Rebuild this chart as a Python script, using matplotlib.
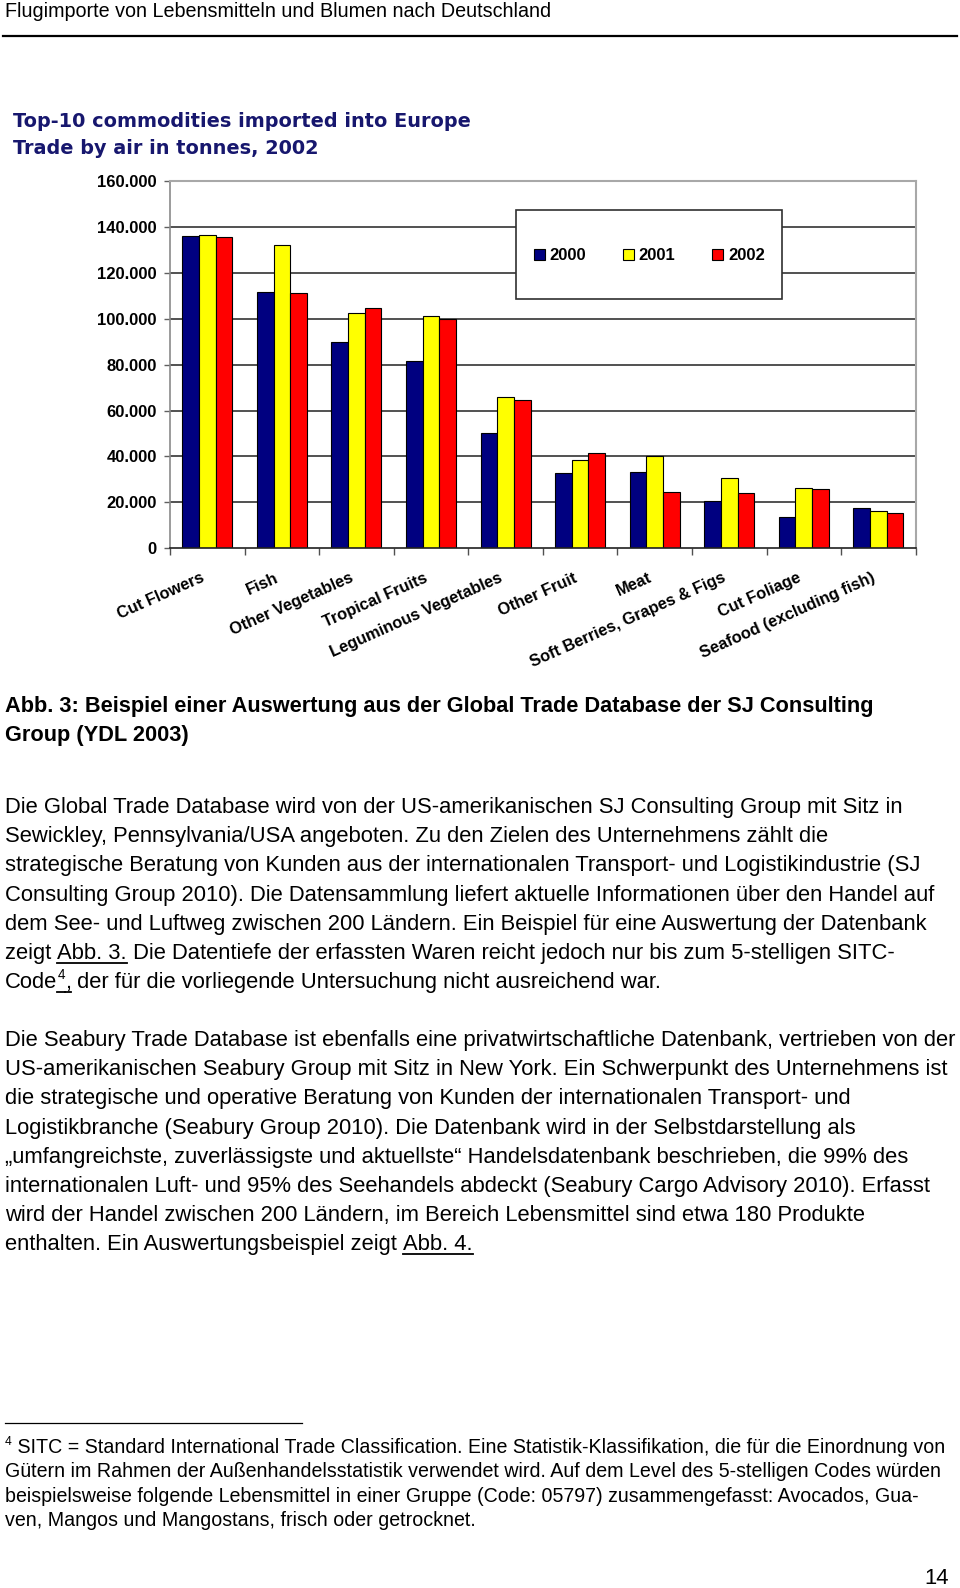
import matplotlib
matplotlib.use("Agg")
import matplotlib.pyplot as plt
import matplotlib.transforms as mtransforms
from matplotlib.lines import Line2D
from matplotlib.patches import Rectangle, Patch
import numpy as np

# chart data (tonnes)
commodities = [
    "Cut Flowers", "Fish", "Other Vegetables", "Tropical Fruits",
    "Leguminous Vegetables", "Other Fruit", "Meat",
    "Soft Berries, Grapes & Figs", "Cut Foliage", "Seafood (excluding fish)",
]
years = ["2000", "2001", "2002"]
t2000 = [136200, 111600, 89900, 81700, 50200, 32800, 33400, 20600, 13600, 17600]
t2001 = [136500, 132200, 102300, 101400, 65700, 38600, 40200, 30800, 26400, 16100]
t2002 = [135800, 111100, 104700, 99800, 64700, 41600, 24500, 24100, 26000, 15500]
year_colors = ["#000080", "#FFFF00", "#FF0000"]
y_ticks = [0, 20000, 40000, 60000, 80000, 100000, 120000, 140000, 160000]

# page text
header = "Flugimporte von Lebensmitteln und Blumen nach Deutschland"
chart_title = ["Top-10 commodities imported into Europe", "Trade by air in tonnes, 2002"]
caption = [
    "Abb. 3: Beispiel einer Auswertung aus der Global Trade Database der SJ Consulting",
    "Group (YDL 2003)",
]
para1 = [
    [("Die Global Trade Database wird von der US-amerikanischen SJ Consulting Group mit Sitz in", "n")],
    [("Sewickley, Pennsylvania/USA angeboten. Zu den Zielen des Unternehmens zählt die", "n")],
    [("strategische Beratung von Kunden aus der internationalen Transport- und Logistikindustrie (SJ", "n")],
    [("Consulting Group 2010). Die Datensammlung liefert aktuelle Informationen über den Handel auf", "n")],
    [("dem See- und Luftweg zwischen 200 Ländern. Ein Beispiel für eine Auswertung der Datenbank", "n")],
    [("zeigt ", "n"), ("Abb. 3.", "u"),
     (" Die Datentiefe der erfassten Waren reicht jedoch nur bis zum 5-stelligen SITC-", "n")],
    [("Code", "n"), ("4", "su"), (",", "u"), (" der für die vorliegende Untersuchung nicht ausreichend war.", "n")],
]
para2 = [
    [("Die Seabury Trade Database ist ebenfalls eine privatwirtschaftliche Datenbank, vertrieben von der", "n")],
    [("US-amerikanischen Seabury Group mit Sitz in New York. Ein Schwerpunkt des Unternehmens ist", "n")],
    [("die strategische und operative Beratung von Kunden der internationalen Transport- und", "n")],
    [("Logistikbranche (Seabury Group 2010). Die Datenbank wird in der Selbstdarstellung als", "n")],
    [("\u201eumfangreichste, zuverlässigste und aktuellste\u201c Handelsdatenbank beschrieben, die 99% des", "n")],
    [("internationalen Luft- und 95% des Seehandels abdeckt (Seabury Cargo Advisory 2010). Erfasst", "n")],
    [("wird der Handel zwischen 200 Ländern, im Bereich Lebensmittel sind etwa 180 Produkte", "n")],
    [("enthalten. Ein Auswertungsbeispiel zeigt ", "n"), ("Abb. 4.", "u")],
]
footnote = [
    [("4", "s"), (" SITC = Standard International Trade Classification. Eine Statistik-Klassifikation, die für die Einordnung von", "n")],
    [("Gütern im Rahmen der Außenhandelsstatistik verwendet wird. Auf dem Level des 5-stelligen Codes würden", "n")],
    [("beispielsweise folgende Lebensmittel in einer Gruppe (Code: 05797) zusammengefasst: Avocados, Gua-", "n")],
    [("ven, Mangos und Mangostans, frisch oder getrocknet.", "n")],
]

W, H = 960, 1588
fig = plt.figure(figsize=(W / 100, H / 100), dpi=100)
fig.patch.set_facecolor("white")
px = mtransforms.Affine2D().scale(1, -1).translate(0, H)
renderer = fig.canvas.get_renderer()

BODY = "Liberation Sans"


def advance(s, **kw):
    """Horizontal advance of a string in pixels (spaces included)."""
    a = fig.text(0, 0, "|" + s + "|", transform=px, **kw)
    b = fig.text(0, 0, "||", transform=px, **kw)
    w = a.get_window_extent(renderer).width - b.get_window_extent(renderer).width
    a.remove()
    b.remove()
    return w


def draw_runs(x, y, runs, size, weight="normal"):
    for text, kind in runs:
        fs = size * 0.62 if "s" in kind else size
        dy = -size * 0.42 * 100 / 72 if "s" in kind else 0
        kw = dict(fontsize=fs, family=BODY, fontweight=weight, color="black")
        fig.text(x, y + dy, text, transform=px, va="baseline", ha="left", **kw)
        w = advance(text, **kw)
        if "u" in kind:
            fig.add_artist(Line2D([x, x + w], [y + 4, y + 4], transform=px,
                                  color="black", lw=1.3))
        x += w


# page header
fig.text(5, 17, header, transform=px, fontsize=14.2, family=BODY, va="baseline")
fig.add_artist(Line2D([3, 957], [35.5, 35.5], transform=px, color="black", lw=1.6))

# chart title
for i, line in enumerate(chart_title):
    fig.text(13, 127 + i * 26.5, line, transform=px, fontsize=13.9,
             family="DejaVu Sans", fontweight="bold", color="#17176e", va="baseline")

# chart
ax = fig.add_axes([170 / W, 1 - 548.3 / H, 745.7 / W, 367.3 / H])
x = np.arange(len(commodities))
bw = 0.224
for k, (vals, col, yr) in enumerate(zip([t2000, t2001, t2002], year_colors, years)):
    ax.bar(x + (k - 1) * bw, vals, width=bw, color=col, edgecolor="black",
           linewidth=0.8, zorder=2, label=yr)

ax.set_xlim(-0.5, len(commodities) - 0.5)
ax.set_ylim(0, 160000)
ax.set_yticks(y_ticks)
ax.set_yticklabels([f"{v:,.0f}".replace(",", ".") for v in y_ticks],
                   fontsize=12, fontweight="bold", family=BODY)
ax.tick_params(axis="y", direction="out", length=4.5, width=1, color="#606060", pad=5)
ax.set_xticks(np.arange(len(commodities) + 1) - 0.5)
ax.set_xticklabels([])
ax.tick_params(axis="x", direction="out", length=5, width=1, color="#505050")
for yv in y_ticks[1:-1]:
    ax.axhline(yv, color="#333333", lw=1.2, zorder=0.5)
for side in ("top", "right"):
    ax.spines[side].set_color("#a8a8a8")
    ax.spines[side].set_linewidth(1.5)
ax.spines["left"].set_color("#8a8a8a")
ax.spines["left"].set_linewidth(1.2)
ax.spines["bottom"].set_color("#202020")
ax.spines["bottom"].set_linewidth(1.2)

lab_tr = mtransforms.offset_copy(ax.get_xaxis_transform(), fig=fig, x=-7, y=-22, units="dots")
for xi, name in zip(x, commodities):
    ax.text(xi, 0, name, transform=lab_tr, rotation=24, rotation_mode="anchor",
            ha="right", va="top", fontsize=11.8, fontweight="bold", family=BODY,
            clip_on=False)

ax.add_patch(Rectangle((0.464, 0.679), 0.357, 0.242, transform=ax.transAxes,
                       facecolor="white", edgecolor="#303030", lw=1.2, zorder=3))
handles = [Patch(facecolor=c, edgecolor="black", lw=0.8) for c in year_colors]
leg = ax.legend(handles, years, loc="center left", bbox_to_anchor=(0.488, 0.797),
                ncol=3, frameon=False, borderpad=0, borderaxespad=0,
                handlelength=0.65, handleheight=0.65, handletextpad=0.3,
                columnspacing=2.2, prop={"family": BODY, "weight": "bold", "size": 12})
leg.set_zorder(5)

# caption
for i, line in enumerate(caption):
    fig.text(5, 712 + i * 29, line, transform=px, fontsize=15.7, family=BODY,
             fontweight="bold", va="baseline")

# paragraphs
for i, runs in enumerate(para1):
    draw_runs(5, 813 + i * 29.2, runs, 15.8)
for i, runs in enumerate(para2):
    draw_runs(5, 1046 + i * 29.2, runs, 15.8)

# footnote
fig.add_artist(Line2D([5, 302], [1423, 1423], transform=px, color="black", lw=0.9))
for i, runs in enumerate(footnote):
    draw_runs(5, 1453 + i * 24.3, runs, 14.1)

fig.text(949, 1584, "14", transform=px, fontsize=15.8, family=BODY, ha="right", va="baseline")

fig.savefig("out.png", dpi=100)
